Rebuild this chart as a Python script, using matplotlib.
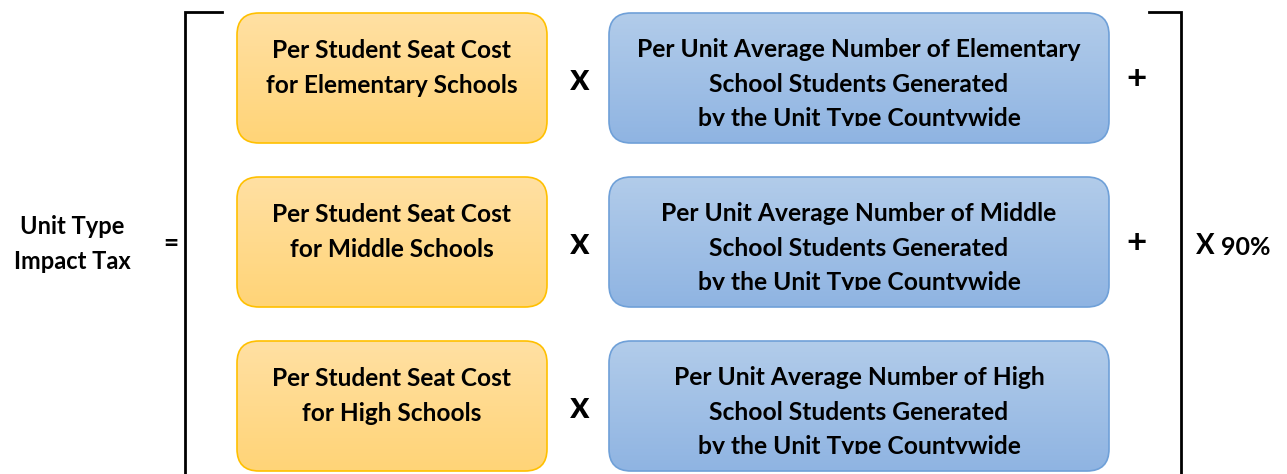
import matplotlib
matplotlib.use("Agg")
import matplotlib.pyplot as plt
import numpy as np
from matplotlib.patches import FancyBboxPatch, Rectangle
from matplotlib.colors import LinearSegmentedColormap

plt.rcParams['font.family'] = ['Lato', 'DejaVu Sans']

orange_labels = [
    "Per Student Seat Cost\nfor Elementary Schools",
    "Per Student Seat Cost\nfor Middle Schools",
    "Per Student Seat Cost\nfor High Schools",
]
blue_labels = [
    "Per Unit Average Number of Elementary\nSchool Students Generated\nby the Unit Type Countywide",
    "Per Unit Average Number of Middle\nSchool Students Generated\nby the Unit Type Countywide",
    "Per Unit Average Number of High\nSchool Students Generated\nby the Unit Type Countywide",
]
row_ops = ["+", "+", ""]
left_label = "Unit Type\nImpact Tax"
factor_label = "90%"

W, H = 1287, 474
fig = plt.figure(figsize=(W / 100, H / 100), dpi=100)
ax = fig.add_axes([0, 0, 1, 1])
ax.set_xlim(0, W)
ax.set_ylim(H, 0)
ax.axis("off")

org_cmap = LinearSegmentedColormap.from_list("o", ["#FFE0A3", "#FFD477"])
blu_cmap = LinearSegmentedColormap.from_list("b", ["#B2CCEA", "#8FB4E2"])
grad = np.linspace(0, 1, 256).reshape(-1, 1)


def box(x0, x1, y0, y1, cmap, edge):
    p = FancyBboxPatch((x0, y0), x1 - x0, y1 - y0,
                       boxstyle="round,pad=0,rounding_size=22",
                       facecolor="none", edgecolor=edge, lw=1.2, zorder=3)
    ax.add_patch(p)
    im = ax.imshow(grad, cmap=cmap, extent=(x0, x1, y1, y0), aspect="auto", zorder=2)
    im.set_clip_path(p)


row_top0 = 13
row_step = 164
box_h = 130

for i in range(3):
    top = row_top0 + i * row_step
    box(237, 547, top, top + box_h, org_cmap, "#FFC000")
    box(609, 1109, top, top + box_h, blu_cmap, "#6FA0D8")
    ax.text(392, top + 55, orange_labels[i], ha="center", va="center",
            fontsize=17.6, fontweight="bold", linespacing=1.64, zorder=4)
    t = ax.text(859, top + 71, blue_labels[i], ha="center", va="center",
                fontsize=17.7, fontweight="bold", linespacing=1.61, zorder=4)
    t.set_clip_path(Rectangle((609, top), 500, 113, transform=ax.transData))
    t.set_clip_on(True)
    ax.text(580, top + 66, "x", ha="center", va="center",
            fontsize=27, fontweight="bold", zorder=4)
    if row_ops[i]:
        ax.text(1137, top + 66, row_ops[i], ha="center", va="center",
                fontsize=25, fontweight="bold", zorder=4)

# brackets
ax.plot([222, 185, 185], [12, 12, H + 5], color="black", lw=2, solid_joinstyle="miter", zorder=5)
ax.plot([1149, 1181, 1181], [12, 12, H + 5], color="black", lw=2, solid_joinstyle="miter", zorder=5)

ax.text(72, 244, left_label, ha="center", va="center", fontsize=17,
        fontweight="bold", linespacing=1.68)
ax.text(171, 243, "=", ha="center", va="center", fontsize=19, fontweight="bold")
ax.text(1205, 246, "X", ha="center", va="center", fontsize=20, fontweight="bold")
ax.text(1221, 247, factor_label, ha="left", va="center", fontsize=18, fontweight="bold")

fig.savefig("out.png", dpi=100, facecolor="white")
